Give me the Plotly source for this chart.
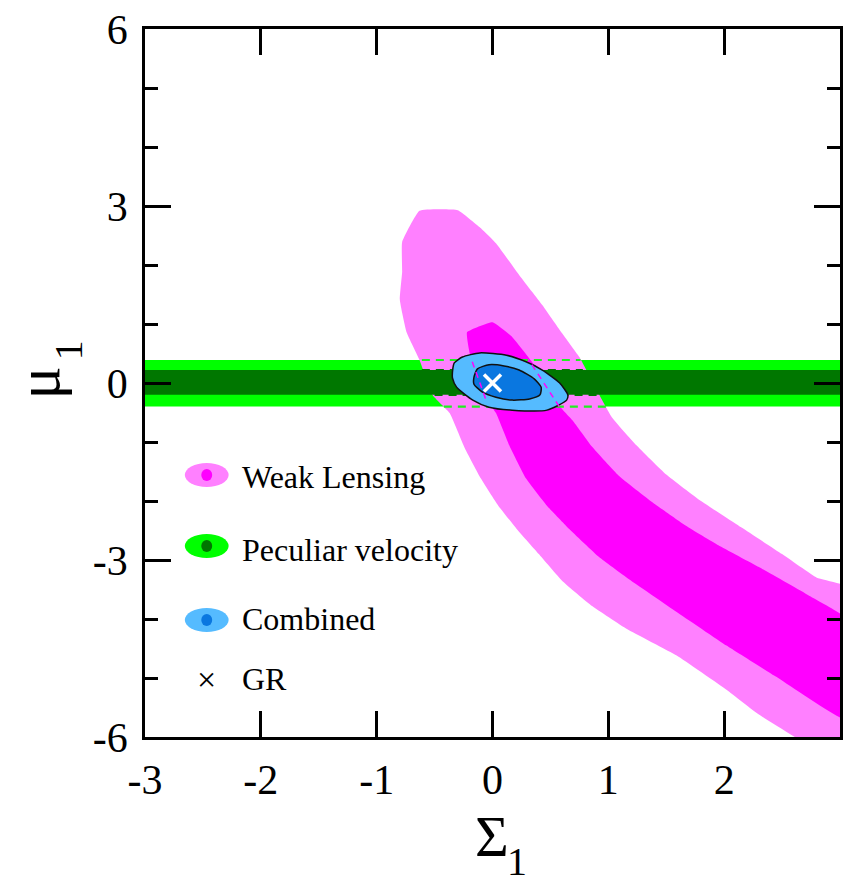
import plotly.graph_objects as go

# ---------------- data ----------------
# Weak lensing 2-sigma region (outer, light magenta)
wl2_x = [-0.63, -0.30, -0.11, 0.03, 0.23, 0.43, 0.58, 0.75, 0.90, 1.03, 1.24, 1.50, 1.80, 2.15, 2.50, 2.80, 3.05,
         3.05, 2.70, 2.30, 2.02, 1.59, 1.16, 0.86, 0.60, 0.40, 0.22, 0.05, -0.10, -0.24, -0.37, -0.52, -0.63, -0.74,
         -0.80, -0.78, -0.78]
wl2_y = [2.92, 2.93, 2.64, 2.37, 1.83, 1.32, 0.90, 0.44, -0.12, -0.58, -1.05, -1.55, -2.00, -2.45, -2.90, -3.30, -3.45,
         -6.3, -6.1, -5.62, -5.20, -4.62, -4.17, -3.78, -3.35, -2.90, -2.50, -2.08, -1.62, -1.10, -0.51, -0.20, 0.39, 0.85,
         1.41, 1.88, 2.39]
# Weak lensing 1-sigma region (inner, magenta)
wl1_x = [-0.22, 0.00, 0.17, 0.34, 0.46, 0.56, 0.69, 0.86, 1.09, 1.38, 1.67, 1.95, 2.30, 2.73, 3.05,
         3.05, 2.45, 2.02, 1.59, 1.16, 0.92, 0.66, 0.47, 0.29, 0.15, 0.03, -0.05, -0.17, -0.20]
wl1_y = [0.86, 1.03, 0.78, 0.36, 0.00, -0.35, -0.63, -1.08, -1.57, -2.02, -2.42, -2.75, -3.12, -3.60, -3.99,
         -5.70, -4.98, -4.45, -3.88, -3.30, -2.95, -2.47, -2.08, -1.62, -1.08, -0.51, -0.29, 0.31, 0.53]
# Peculiar velocity bands (mu_1 limits)
pv2_lim = [-0.40, 0.39]
pv1_lim = [-0.20, 0.22]
# Extent of the dashed PV contour lines drawn over the lensing region
pv2_dash_x = [[-0.61, 0.76], [-0.42, 1.00]]
pv1_dash_x = [[-0.61, 0.78], [-0.50, 0.93]]
# Combined 2-sigma and 1-sigma regions
cb2_x = [-0.345, -0.33, -0.26, -0.11, 0.12, 0.29, 0.43, 0.58, 0.65, 0.64, 0.47, 0.17, -0.03, -0.17, -0.31, -0.345]
cb2_y = [0.20, 0.34, 0.44, 0.51, 0.47, 0.36, 0.22, 0.00, -0.20, -0.29, -0.46, -0.46, -0.41, -0.29, -0.07, 0.08]
cb1_x = [-0.16, -0.13, -0.03, 0.10, 0.23, 0.36, 0.42, 0.41, 0.32, 0.17, 0.03, -0.09, -0.16]
cb1_y = [0.10, 0.24, 0.31, 0.29, 0.22, 0.07, -0.07, -0.20, -0.27, -0.29, -0.24, -0.15, -0.02]
# WL 1-sigma boundary pieces shown dashed inside the combined region
wl1_dash_left_x = [-0.175, -0.05]
wl1_dash_left_y = [0.36, -0.32]
wl1_dash_right_x = [0.34, 0.58]
wl1_dash_right_y = [0.31, -0.41]
# GR point
gr_x = [0]
gr_y = [0]

x_ticks = [-3, -2, -1, 0, 1, 2]
y_ticks = [-6, -3, 0, 3, 6]
legend_labels = ["Weak Lensing", "Peculiar velocity", "Combined", "GR"]

# ---------------- colours ----------------
WL2, WL1 = "#ff80ff", "#ff00ff"
PV2, PV1 = "#00ff00", "#007700"
CB2, CB1 = "#55bbff", "#0a77e0"
FONT = "Liberation Serif"

fig = go.Figure()

def band(lim, color):
    fig.add_trace(go.Scatter(x=[-3.1, 3.1, 3.1, -3.1], y=[lim[0], lim[0], lim[1], lim[1]],
                             fill="toself", fillcolor=color, mode="none", hoverinfo="skip"))

def region(x, y, color, outline=None, width=0, smooth=0.35):
    fig.add_trace(go.Scatter(x=x + x[:1], y=y + y[:1], fill="toself", fillcolor=color,
                             mode="lines",
                             line=dict(color=outline if outline else color, width=width if outline else 0,
                                       shape="spline", smoothing=smooth),
                             hoverinfo="skip"))

band(pv2_lim, PV2)
region(wl2_x, wl2_y, WL2)
region(wl1_x, wl1_y, WL1)
band(pv1_lim, PV1)

for (xr, yv) in zip(pv2_dash_x, [pv2_lim[1], pv2_lim[0]]):
    fig.add_trace(go.Scatter(x=xr, y=[yv, yv], mode="lines",
                             line=dict(color="#22ee22", width=2.2, dash="8px,6px"), hoverinfo="skip"))
for (xr, yv) in zip(pv1_dash_x, [pv1_lim[1], pv1_lim[0]]):
    fig.add_trace(go.Scatter(x=xr, y=[yv, yv], mode="lines",
                             line=dict(color="#007700", width=2.2, dash="8px,6px"), hoverinfo="skip"))

region(cb2_x, cb2_y, CB2, outline="#111111", width=1.5, smooth=0.6)
region(cb1_x, cb1_y, CB1, outline="#111111", width=1.5, smooth=0.6)

for xs, ys in [(wl1_dash_left_x, wl1_dash_left_y), (wl1_dash_right_x, wl1_dash_right_y)]:
    fig.add_trace(go.Scatter(x=xs, y=ys, mode="lines",
                             line=dict(color=WL1, width=1.5, dash="6px,5px"), hoverinfo="skip"))

fig.add_trace(go.Scatter(x=gr_x, y=gr_y, mode="markers",
                         marker=dict(symbol="x-thin", size=17, line=dict(color="white", width=3.5)),
                         hoverinfo="skip"))

# ---------------- legend (drawn manually) ----------------
L, T, W, H = 145, 29, 698, 708
def px(xp):
    return (xp - L) / W
def py(yp):
    return (T + H - yp) / H

shapes = []
legend_rows = [(475, WL2, WL1), (546, PV2, PV1), (620, CB2, CB1)]
for yc, outer, inner in legend_rows:
    shapes.append(dict(type="circle", xref="paper", yref="paper",
                       x0=px(185), x1=px(229), y0=py(yc + 12), y1=py(yc - 12),
                       fillcolor=outer, line=dict(width=0), layer="above"))
    shapes.append(dict(type="circle", xref="paper", yref="paper",
                       x0=px(201.5), x1=px(212.5), y0=py(yc + 6), y1=py(yc - 6),
                       fillcolor=inner, line=dict(width=0), layer="above"))

annotations = []
for lab, yc in zip(legend_labels, [477, 550, 619, 679]):
    annotations.append(dict(text=lab, xref="paper", yref="paper", x=px(240), y=py(yc),
                            xanchor="left", yanchor="middle", showarrow=False,
                            font=dict(family=FONT, size=32, color="black")))
annotations.append(dict(text="\u00d7", xref="paper", yref="paper", x=px(207), y=py(679),
                        xanchor="center", yanchor="middle", showarrow=False,
                        font=dict(family=FONT, size=34, color="black")))

# axis titles
annotations.append(dict(text="\u03a3", xref="paper", yref="paper", x=px(493), y=py(836),
                        xanchor="center", yanchor="middle", showarrow=False,
                        font=dict(family=FONT, size=58, color="black")))
annotations.append(dict(text="1", xref="paper", yref="paper", x=px(519), y=py(861),
                        xanchor="center", yanchor="middle", showarrow=False,
                        font=dict(family=FONT, size=40, color="black")))
annotations.append(dict(text="\u03bc", xref="paper", yref="paper", x=px(38), y=py(383),
                        xanchor="center", yanchor="middle", showarrow=False, textangle=-90,
                        font=dict(family=FONT, size=62, color="black")))
annotations.append(dict(text="1", xref="paper", yref="paper", x=px(68), y=py(350),
                        xanchor="center", yanchor="middle", showarrow=False, textangle=-90,
                        font=dict(family=FONT, size=40, color="black")))

axis_common = dict(showgrid=False, zeroline=False, showline=True, linecolor="black", linewidth=2.5,
                   mirror="ticks", ticks="inside", tickwidth=2.5, tickcolor="black", ticklen=26,
                   tickfont=dict(family=FONT, size=42, color="black"))

fig.update_layout(
    width=843, height=888,
    margin=dict(l=L, r=843 - L - W, t=T, b=888 - T - H, pad=0),
    paper_bgcolor="white", plot_bgcolor="white",
    showlegend=False,
    xaxis=dict(range=[-3, 3], tickvals=x_ticks, ticktext=[str(v) for v in x_ticks],
               ticklabelstandoff=4, **axis_common),
    yaxis=dict(range=[-6, 6], tickvals=y_ticks, ticktext=[str(v) for v in y_ticks],
               minor=dict(dtick=1, tick0=0, ticks="inside", ticklen=13, tickwidth=2.5, tickcolor="black"),
               ticklabelstandoff=6, **axis_common),
    shapes=shapes, annotations=annotations,
)

fig.write_html("out.html")
